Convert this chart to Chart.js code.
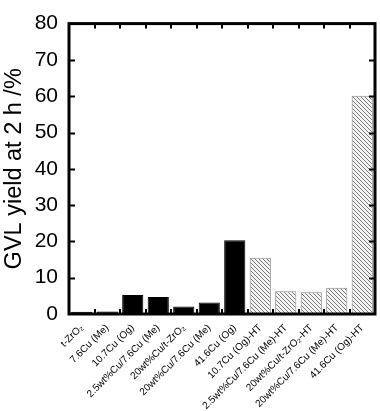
<!DOCTYPE html>
<html>
<head>
<meta charset="utf-8">
<script src="https://cdn.jsdelivr.net/npm/chart.js@4"></script>
<style>
  html, body { margin: 0; padding: 0; background: #fff; }
  #wrap { width: 380px; height: 411px; }
</style>
</head>
<body>
<div id="wrap"><canvas id="chartBar" width="380" height="411"></canvas></div>
<script>
// catalysts, in plot order
const categories = [
  't-ZrO₂', '7.6Cu (Me)', '10.7Cu (Og)', '2.5wt%Cu/7.6Cu (Me)', '20wt%Cu/t-ZrO₂',
  '20wt%Cu/7.6Cu (Me)', '41.6Cu (Og)', '10.7Cu (Og)-HT', '2.5wt%Cu/7.6Cu (Me)-HT',
  '20wt%Cu/t-ZrO₂-HT', '20wt%Cu/7.6Cu (Me)-HT', '41.6Cu (Og)-HT'
];
// GVL yield at 2 h (%)
const yieldValues = [0.6, 0.7, 5.2, 4.7, 2.1, 3.2, 20.3, 15.5, 6.3, 6.0, 7.2, 60.1];
// heat-treated samples get the hatched fill
const heatTreated = [false, false, false, false, false, false, false, true, true, true, true, true];
const yTicks = [0, 10, 20, 30, 40, 50, 60, 70, 80];

function makeHatch() {
  const c = document.createElement('canvas');
  c.width = 4; c.height = 4;
  const g = c.getContext('2d');
  g.fillStyle = '#f4f4f4';
  g.fillRect(0, 0, 4, 4);
  g.strokeStyle = '#7a7a7a';
  g.lineWidth = 1;
  g.beginPath();
  g.moveTo(-1, -1); g.lineTo(5, 5);
  g.moveTo(-1, 3); g.lineTo(1, 5);
  g.moveTo(3, -1); g.lineTo(5, 1);
  g.stroke();
  return g.createPattern(c, 'repeat');
}
const hatch = makeHatch();

// frame + inward ticks like the original plot
const framePlugin = {
  id: 'frame',
  afterDatasetsDraw(chart) {
    const ctx = chart.ctx;
    const a = chart.chartArea;
    const x = chart.scales.x, y = chart.scales.y;
    ctx.save();
    ctx.strokeStyle = '#000';
    ctx.lineWidth = 2;
    ctx.beginPath();
    yTicks.forEach(v => {
      if (v === 0 || v === 80) return;
      const py = Math.round(y.getPixelForValue(v)) + 0.5;
      ctx.moveTo(a.left, py); ctx.lineTo(a.left + 6, py);
      ctx.moveTo(a.right, py); ctx.lineTo(a.right - 6, py);
    });
    for (let i = 0; i < categories.length - 1; i++) {
      const px = Math.round((x.getPixelForValue(i) + x.getPixelForValue(i + 1)) / 2);
      ctx.moveTo(px, a.top); ctx.lineTo(px, a.top + 5);
      ctx.moveTo(px, a.bottom); ctx.lineTo(px, a.bottom - 5);
    }
    ctx.stroke();
    ctx.lineWidth = 3;
    ctx.strokeRect(a.left, a.top, a.right - a.left, a.bottom - a.top);
    ctx.restore();
  }
};

const chartBar = document.getElementById('chartBar');

new Chart(chartBar, {
  type: 'bar',
  data: {
    labels: categories,
    datasets: [{
      data: yieldValues,
      backgroundColor: heatTreated.map(h => h ? hatch : '#000'),
      borderColor: heatTreated.map(h => h ? '#8a8a8a' : '#000'),
      borderWidth: 1,
      barPercentage: 0.83,
      categoryPercentage: 1
    }]
  },
  options: {
    responsive: false,
    animation: false,
    events: [],
    layout: { padding: { top: 11, right: 5, left: 0, bottom: 0 } },
    plugins: { legend: { display: false }, tooltip: { enabled: false } },
    scales: {
      x: {
        grid: { display: false, drawTicks: false },
        border: { display: false },
        ticks: {
          autoSkip: false,
          minRotation: 45,
          maxRotation: 45,
          padding: 8,
          color: '#000',
          font: { family: 'Liberation Sans, Arial', size: 10 }
        },
        afterFit(s) { s.height = 97; }
      },
      y: {
        min: 0,
        max: 80,
        grid: { display: false, drawTicks: false },
        border: { display: false },
        ticks: {
          stepSize: 10,
          padding: 11,
          color: '#000',
          font: { family: 'Liberation Sans, Arial', size: 21 }
        },
        title: {
          display: true,
          text: 'GVL yield at 2 h /%',
          color: '#000',
          padding: 0,
          font: { family: 'Liberation Sans, Arial', size: 23.5 }
        },
        afterFit(s) { s.width = 69; }
      }
    }
  },
  plugins: [framePlugin]
});
</script>
</body>
</html>
